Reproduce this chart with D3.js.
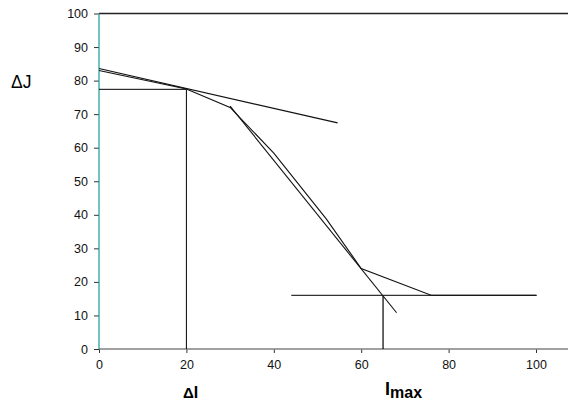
<!DOCTYPE html>
<html>
<head>
<meta charset="utf-8">
<script src="https://cdn.jsdelivr.net/npm/d3@7"></script>
<style>
  body { margin: 0; background: #fff; overflow: hidden; }
  svg { display: block; }
  text { font-family: "Liberation Sans", Arial, sans-serif; }
</style>
</head>
<body>
<div id="chart"></div>
<script>
// measured curve dJ(I)
const curveI = [0, 20, 30, 40, 52, 60, 76, 100]
const curveJ = [83, 77.5, 72, 58.4, 38.8, 24, 16, 16]
// shallow tangent
const tan1I = [0, 54.6]
const tan1J = [83.6, 67.4]
// steep tangent
const tan2I = [30, 68.1]
const tan2J = [72.4, 10.8]
// saturation level
const satI = [44, 100.2]
const satJ = [16, 16]
// construction lines
const dropI = [0, 20, 20]
const dropJ = [77.4, 77.4, 0]
const maxI = [65, 65]
const maxJ = [16, 0]

const xTicks = [0, 20, 40, 60, 80, 100]
const yTicks = [0, 10, 20, 30, 40, 50, 60, 70, 80, 90, 100]

var width = 569, height = 404

var svg = d3.select("#chart").append("svg")
  .attr("width", width)
  .attr("height", height)

var x = d3.scaleLinear().domain([0, 100]).range([99, 536])
var y = d3.scaleLinear().domain([0, 100]).range([349, 13.5])

var line = d3.line().x(d => x(d[0])).y(d => y(d[1]))
var pairs = (a, b) => a.map((v, i) => [v, b[i]])

// top frame line
svg.append("line")
  .attr("x1", x(0)).attr("x2", 568)
  .attr("y1", y(100)).attr("y2", y(100))
  .attr("stroke", "#222").attr("stroke-width", 1.6)

// axes
var xAxis = svg.append("g")
  .attr("transform", "translate(0," + y(0) + ")")
  .call(d3.axisBottom(x).tickValues(xTicks).tickSize(4).tickSizeOuter(0).tickPadding(7))
xAxis.select(".domain").remove()
xAxis.selectAll(".tick line").attr("stroke", "#333")
xAxis.selectAll("text").style("font-size", "12.5px").attr("fill", "#111")
svg.append("line")
  .attr("x1", x(0)).attr("x2", 568)
  .attr("y1", y(0)).attr("y2", y(0))
  .attr("stroke", "#808080").attr("stroke-width", 1.6)

var yAxis = svg.append("g")
  .attr("transform", "translate(" + x(0) + ",0)")
  .call(d3.axisLeft(y).tickValues(yTicks).tickSize(5).tickSizeOuter(0).tickPadding(6))
yAxis.select(".domain").remove()
yAxis.selectAll(".tick line").attr("stroke", "#333")
yAxis.selectAll("text").style("font-size", "12.5px").attr("fill", "#111")
svg.append("line")
  .attr("x1", x(0)).attr("x2", x(0))
  .attr("y1", y(0)).attr("y2", y(100))
  .attr("stroke", "#1a9a9a").attr("stroke-width", 1.2)

// construction lines
svg.append("path").datum(pairs(dropI, dropJ))
  .attr("d", line).attr("fill", "none").attr("stroke", "#000").attr("stroke-width", 1)
svg.append("path").datum(pairs(maxI, maxJ))
  .attr("d", line).attr("fill", "none").attr("stroke", "#000").attr("stroke-width", 1.2)
svg.append("path").datum(pairs(satI, satJ))
  .attr("d", line).attr("fill", "none").attr("stroke", "#333").attr("stroke-width", 1.2)

// tangents
svg.append("path").datum(pairs(tan1I, tan1J))
  .attr("d", line).attr("fill", "none").attr("stroke", "#111").attr("stroke-width", 1.2)
svg.append("path").datum(pairs(tan2I, tan2J))
  .attr("d", line).attr("fill", "none").attr("stroke", "#111").attr("stroke-width", 1.1)

// curve
svg.append("path").datum(pairs(curveI, curveJ))
  .attr("d", line).attr("fill", "none").attr("stroke", "#111").attr("stroke-width", 1.1)

// labels
svg.append("text")
  .attr("x", 11).attr("y", 88)
  .style("font-size", "17.5px")
  .text("\u0394J")

var dI = svg.append("text")
  .attr("x", 183).attr("y", 398)
  .style("font-weight", "bold")
dI.append("tspan").style("font-size", "15px").text("\u0394")
dI.append("tspan").style("font-size", "16px").text("I")

var imax = svg.append("text")
  .attr("x", 385).attr("y", 395)
  .style("font-weight", "bold")
imax.append("tspan").style("font-size", "18px").text("I")
imax.append("tspan").attr("dy", 3).style("font-size", "16px").text("max")
</script>
</body>
</html>
